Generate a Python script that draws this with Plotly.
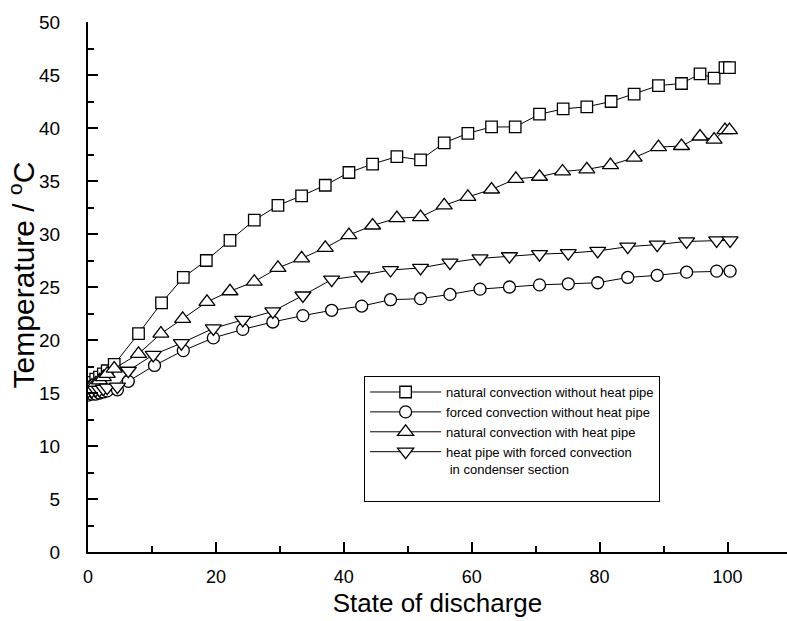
import plotly.graph_objects as go

# natural convection without heat pipe (squares)
sq_x = [0, 0.6, 1.2, 1.8, 2.4, 3.0, 4.1, 7.9, 11.5, 14.9, 18.5, 22.2, 26.0, 29.7, 33.4, 37.1,
        40.8, 44.5, 48.3, 52.0, 55.7, 59.4, 63.1, 66.8, 70.6, 74.3, 78.0, 81.8, 85.4, 89.2,
        92.8, 95.7, 97.9, 99.6, 100.3]
sq_y = [15.8, 16.0, 16.3, 16.5, 16.8, 17.1, 17.7, 20.6, 23.5, 25.9, 27.5, 29.4, 31.3, 32.7, 33.6, 34.6,
        35.8, 36.6, 37.3, 37.0, 38.6, 39.5, 40.1, 40.1, 41.3, 41.8, 42.0, 42.5, 43.2, 44.0,
        44.2, 45.1, 44.7, 45.7, 45.7]

# forced convection without heat pipe (circles)
ci_x = [0, 0.6, 1.2, 1.8, 2.4, 3.0, 4.6, 6.3, 10.4, 14.9, 19.6, 24.2, 28.9, 33.6, 38.1, 42.8,
        47.3, 52.0, 56.6, 61.3, 65.9, 70.6, 75.1, 79.7, 84.4, 89.0, 93.6, 98.3, 100.4]
ci_y = [14.8, 14.9, 14.9, 15.0, 15.1, 15.2, 15.3, 16.1, 17.6, 19.0, 20.2, 21.0, 21.7, 22.3, 22.8, 23.2,
        23.8, 23.9, 24.3, 24.8, 25.0, 25.2, 25.3, 25.4, 25.9, 26.1, 26.4, 26.5, 26.5]

# natural convection with heat pipe (up triangles)
tu_x = [0, 0.6, 1.2, 1.8, 2.4, 3.0, 4.1, 7.9, 11.4, 14.8, 18.6, 22.2, 26.0, 29.7, 33.4, 37.1,
        40.8, 44.5, 48.3, 52.0, 55.7, 59.4, 63.1, 66.9, 70.6, 74.2, 78.0, 81.7, 85.4, 89.2,
        92.8, 95.7, 97.9, 99.6, 100.3]
tu_y = [15.5, 15.7, 15.9, 16.2, 16.5, 16.8, 17.3, 18.7, 20.6, 22.0, 23.6, 24.6, 25.5, 26.8, 27.7, 28.7,
        29.9, 30.8, 31.5, 31.6, 32.7, 33.5, 34.2, 35.2, 35.4, 35.9, 36.1, 36.5, 37.2, 38.2,
        38.3, 39.2, 38.9, 39.8, 39.8]

# heat pipe with forced convection in condenser section (down triangles)
td_x = [0, 0.6, 1.2, 1.8, 2.4, 3.0, 4.6, 6.3, 10.2, 14.6, 19.6, 24.2, 28.9, 33.6, 38.1, 42.8,
        47.3, 52.0, 56.6, 61.3, 65.9, 70.6, 75.1, 79.7, 84.4, 89.0, 93.6, 98.3, 100.4]
td_y = [15.2, 15.2, 15.3, 15.3, 15.4, 15.5, 15.6, 17.1, 18.6, 19.7, 21.1, 21.9, 22.7, 24.2, 25.7, 26.1,
        26.6, 26.8, 27.3, 27.7, 27.9, 28.1, 28.2, 28.4, 28.8, 29.0, 29.3, 29.4, 29.4]

names = ["natural convection without heat pipe",
         "forced convection without heat pipe",
         "natural convection with heat pipe",
         "heat pipe with forced convection<br> in condenser section<br> "]

x_title = "State of discharge"
y_title = "Temperature / <sup>o</sup>C"

AFONT = "Liberation Sans, Arial, sans-serif"

fig = go.Figure()
series = [(sq_x, sq_y, "square", 11.5), (ci_x, ci_y, "circle", 12),
          (tu_x, tu_y, "triangle-up", 14), (td_x, td_y, "triangle-down", 14)]
for (xs, ys, sym, sz), nm in zip(series, names):
    fig.add_trace(go.Scatter(
        x=xs, y=ys, name=nm, mode="lines+markers",
        line=dict(color="black", width=1),
        marker=dict(symbol=sym, size=sz, color="white",
                    line=dict(color="black", width=1.3)),
    ))

fig.add_annotation(text=y_title, xref="paper", yref="paper", x=-0.095, y=0.523,
                   xanchor="center", yanchor="middle", textangle=-90, showarrow=False,
                   font=dict(family=AFONT, size=30, color="black"))

fig.update_layout(
    width=787, height=621,
    margin=dict(l=88, r=0, t=22, b=69),
    paper_bgcolor="white", plot_bgcolor="white",
    font=dict(family=AFONT, color="black"),
    showlegend=True,
    legend=dict(x=0.395, y=0.332, xanchor="left", yanchor="top",
                bordercolor="black", borderwidth=1, bgcolor="white",
                font=dict(family=AFONT, size=13), itemwidth=71,
                tracegroupgap=0, valign="top"),
    xaxis=dict(range=[0, 109.3], showgrid=False, zeroline=False,
               showline=True, linecolor="black", linewidth=2,
               ticks="inside", ticklen=10, tickwidth=2, tickcolor="black",
               dtick=20, tick0=0,
               minor=dict(ticks="inside", ticklen=6, tickwidth=2, dtick=10, tickcolor="black"),
               tickfont=dict(size=18), ticklabelstandoff=7,
               title=dict(text=x_title, font=dict(size=26), standoff=8)),
    yaxis=dict(range=[0, 50], showgrid=False, zeroline=False,
               showline=True, linecolor="black", linewidth=2,
               ticks="inside", ticklen=10, tickwidth=2, tickcolor="black",
               dtick=5, tick0=0,
               minor=dict(ticks="inside", ticklen=6, tickwidth=2, dtick=2.5, tickcolor="black"),
               tickfont=dict(size=19), ticklabelstandoff=22),
)

fig.write_html("out.html")
